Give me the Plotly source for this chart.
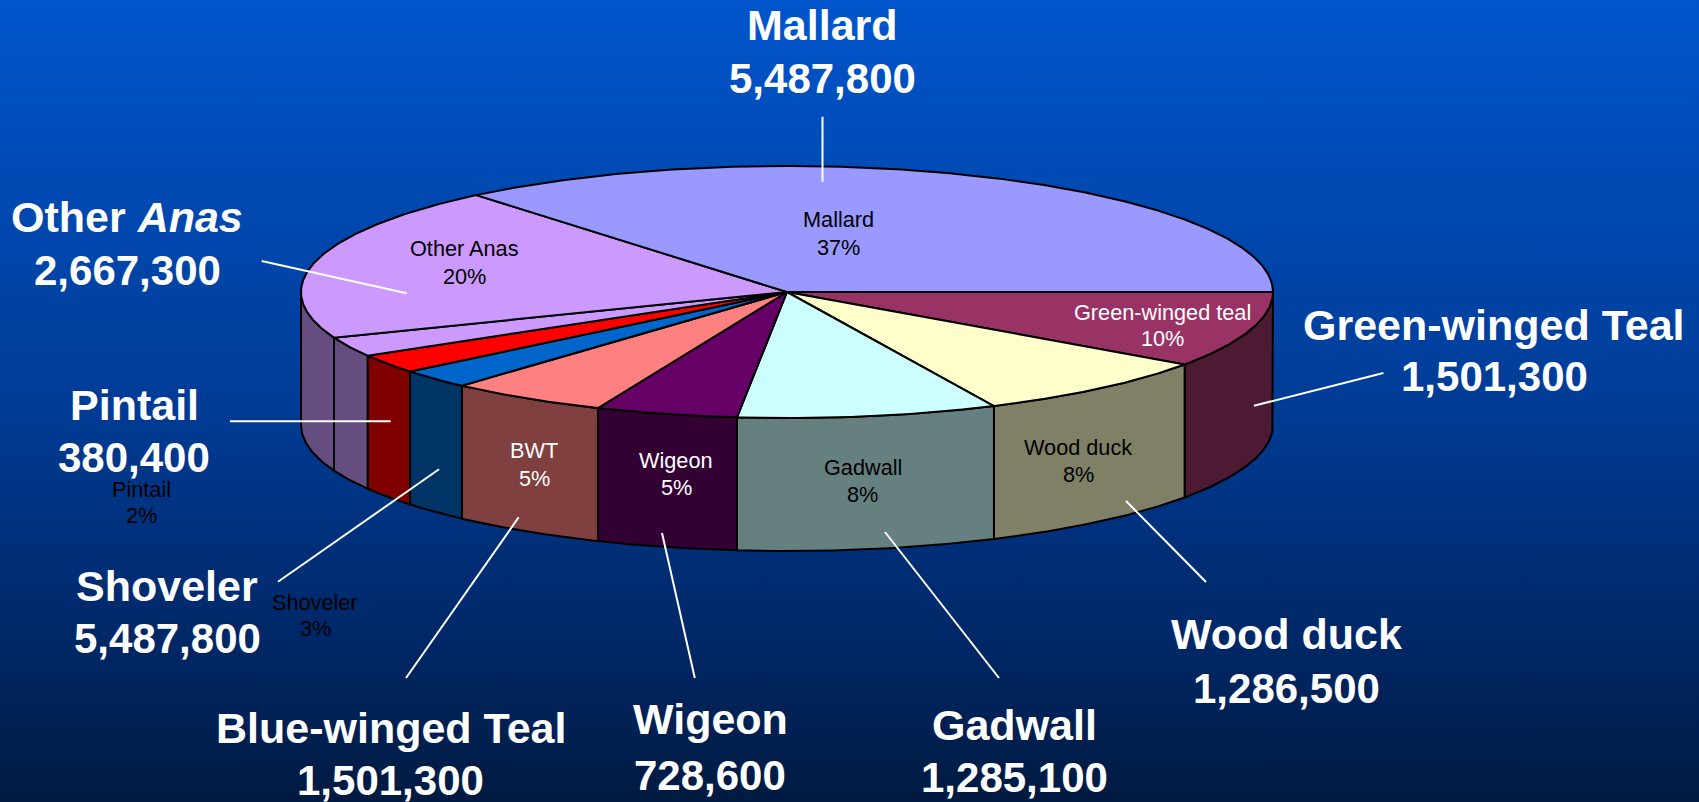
import math
import plotly.graph_objects as go

# ---- data ----
slice_names = ["Green-winged teal", "Wood duck", "Gadwall", "Wigeon", "BWT",
               "Shoveler", "Pintail", "Other", "Other Anas", "Mallard"]
slice_share = [9.75, 8.25, 8.64, 4.72, 5.30, 2.47, 2.44, 2.53, 19.86, 36.04]
top_colors = ["#993366", "#FFFFCC", "#CCFFFF", "#660066", "#FF8080",
              "#0066CC", "#FF0000", "#CC99FF", "#CC99FF", "#9999FF"]
side_colors = ["#4D1A33", "#808066", "#668080", "#330033", "#804040",
               "#003366", "#800000", "#664D80", "#664D80", "#4D4D80"]

pct_names = ["Mallard", "Other Anas", "Green-winged teal", "Wood duck", "Gadwall",
             "Wigeon", "BWT", "Pintail", "Shoveler"]
pct_texts = ["37%", "20%", "10%", "8%", "8%", "5%", "5%", "2%", "3%"]

big_names = ["Mallard", "Other <i>Anas</i>", "Pintail", "Shoveler", "Blue-winged Teal",
             "Wigeon", "Gadwall", "Wood duck", "Green-winged Teal"]
big_counts = ["5,487,800", "2,667,300", "380,400", "5,487,800", "1,501,300",
              "728,600", "1,285,100", "1,286,500", "1,501,300"]

# ---- layout and style (page pixels) ----
W, H = 1699, 802
CX, CY, RX, RY, DEPTH = 787, 292, 486, 126, 133

pct_pos = [(838.6, 219, 247, "black"), (464, 248, 276, "black"), (1162.7, 312, 338, "white"),
           (1078, 447, 474, "black"), (862.5, 467, 494, "black"), (676, 460.6, 487.7, "white"),
           (534, 450, 478, "white"), (141, 489.5, 515.6, "black"), (315, 602, 628, "black")]
big_pos = [(822.5, 25, 78), (127, 217, 270), (134, 405, 457), (167, 586, 638),
           (390.5, 728, 780.7), (710, 718.7, 775), (1014.5, 725, 777.6),
           (1286, 634, 688), (1494, 325, 376.7)]
leaders = [(822.5, 116.7, 822.5, 181.7), (261.7, 261, 406.7, 293.3), (230, 421.3, 390.7, 421.3),
           (278, 581.7, 439, 469.3), (406, 678, 518.7, 517.3), (694.8, 678, 662, 533),
           (999, 678, 885, 532), (1206, 582, 1126, 501), (1254, 405.7, 1383.4, 373)]
bg_stops = [[0, "#0055CC"], [0.5, "#003C96"], [0.8, "#002766"], [1, "#001A40"]]
NAME_SIZE, COUNT_SIZE, PCT_SIZE = 43, 42, 21.7


def px(deg):
    a = math.radians(deg)
    return CX + RX * math.cos(a), CY - RY * math.sin(a)


def arc(a0, a1):
    n = max(2, int(abs(a1 - a0)) * 2)
    return [px(a0 + (a1 - a0) * i / n) for i in range(n + 1)]


fig = go.Figure()

# page background
fig.add_trace(go.Scatter(
    x=[0, W, W, 0, 0], y=[0, 0, H, H, 0], mode="lines", line=dict(width=0),
    fill="toself", hoverinfo="skip",
    fillgradient=dict(type="vertical", colorscale=bg_stops, start=0, stop=H),
))

# angles: slices run clockwise on the picture from 3 o'clock
total = sum(slice_share)
edges = [360.0]
for v in slice_share:
    edges.append(edges[-1] - 360.0 * v / total)

# side walls: only the front half (180..360) is visible
for name, col, a1, a0 in zip(slice_names, side_colors, edges[:-1], edges[1:]):
    lo, hi = max(a0, 180.0), a1
    if hi <= lo:
        continue
    pts = arc(lo, hi)
    xs = [p[0] for p in pts] + [p[0] for p in reversed(pts)] + [pts[0][0]]
    ys = [p[1] for p in pts] + [p[1] + DEPTH for p in reversed(pts)] + [pts[0][1]]
    fig.add_trace(go.Scatter(x=xs, y=ys, mode="lines", fill="toself", fillcolor=col,
                             line=dict(color="black", width=2), name=name, hoverinfo="name"))

# top wedges
for name, col, a1, a0 in zip(slice_names, top_colors, edges[:-1], edges[1:]):
    pts = arc(a0, a1)
    xs = [CX] + [p[0] for p in pts] + [CX]
    ys = [CY] + [p[1] for p in pts] + [CY]
    fig.add_trace(go.Scatter(x=xs, y=ys, mode="lines", fill="toself", fillcolor=col,
                             line=dict(color="black", width=2), name=name, hoverinfo="name"))

annotations = []


def text(x, y, s, size, color, bold=False):
    annotations.append(dict(
        x=x, y=y, xref="x", yref="y", text=f"<b>{s}</b>" if bold else s, showarrow=False,
        xanchor="center", yanchor="middle",
        font=dict(family="Liberation Sans, Arial, sans-serif", size=size, color=color)))


for name, pct, (x, y1, y2, c) in zip(pct_names, pct_texts, pct_pos):
    text(x, y1, name, PCT_SIZE, c)
    text(x, y2, pct, PCT_SIZE, c)
for name, cnt, (x, y1, y2) in zip(big_names, big_counts, big_pos):
    text(x, y1, name, NAME_SIZE, "white", True)
    text(x, y2, cnt, COUNT_SIZE, "white", True)

shapes = [dict(type="line", xref="x", yref="y", x0=a, y0=b, x1=c, y1=d,
               line=dict(color="white", width=2), layer="above") for a, b, c, d in leaders]

fig.update_layout(
    width=W, height=H, margin=dict(l=0, r=0, t=0, b=0), showlegend=False,
    paper_bgcolor="#003C96", plot_bgcolor="rgba(0,0,0,0)",
    xaxis=dict(range=[0, W], visible=False, fixedrange=True),
    yaxis=dict(range=[H, 0], visible=False, fixedrange=True),
    annotations=annotations, shapes=shapes,
)
fig.write_html("out.html", config={"displayModeBar": False},
               post_script="document.body.style.margin='0';document.body.style.overflow='hidden';")
